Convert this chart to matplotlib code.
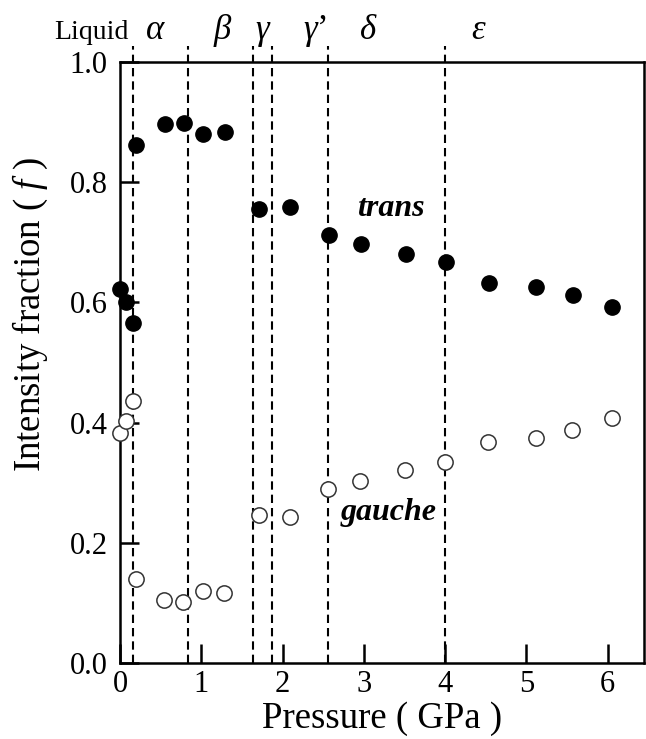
import matplotlib
matplotlib.use('Agg')
import matplotlib.pyplot as plt

plt.rcParams['font.family'] = ['Liberation Serif', 'DejaVu Serif']
plt.rcParams['mathtext.fontset'] = 'custom'
plt.rcParams['mathtext.rm'] = 'Liberation Serif'
plt.rcParams['mathtext.it'] = 'Liberation Serif:italic'

# trans (filled) and gauche (open) intensity fractions vs pressure
p_trans = [0.0, 0.07, 0.16, 0.2, 0.55, 0.79, 1.02, 1.29, 1.71, 2.085, 2.565, 2.96, 3.52, 4.01, 4.54, 5.12, 5.57, 6.05]
f_trans = [0.622, 0.600, 0.566, 0.862, 0.897, 0.899, 0.880, 0.884, 0.755, 0.758, 0.713, 0.698, 0.680, 0.667, 0.633, 0.626, 0.613, 0.593]
p_gauche = [0.0, 0.07, 0.16, 0.19, 0.54, 0.77, 1.02, 1.28, 1.71, 2.085, 2.56, 2.955, 3.51, 4.0, 4.53, 5.12, 5.56, 6.05]
f_gauche = [0.382, 0.402, 0.436, 0.139, 0.104, 0.101, 0.120, 0.117, 0.246, 0.243, 0.289, 0.303, 0.321, 0.335, 0.368, 0.374, 0.388, 0.408]

# phase boundaries and phase names
boundaries = [0.16, 0.83, 1.64, 1.875, 2.56, 4.0]
phase_names = ['Liquid', r'$\alpha$', r'$\beta$', r'$\gamma$', r'$\gamma$’', r'$\delta$', r'$\varepsilon$']
phase_x = [-0.35, 0.44, 1.27, 1.76, 2.4, 3.05, 4.42]

fig = plt.figure(figsize=(6.46, 7.39), dpi=100)
ax = fig.add_axes([0.186, 0.103, 0.811, 0.813])

# dashed phase boundaries, running a little above the frame
ax.vlines(boundaries, 0, 1.027, colors='black', linestyles=[(0, (4, 2.4))],
          linewidth=1.5, zorder=1, clip_on=False)

ax.plot(p_trans, f_trans, 'o', color='black', markersize=11, zorder=3, clip_on=False)
ax.plot(p_gauche, f_gauche, 'o', markerfacecolor='white', markeredgecolor='#333333',
        markeredgewidth=1.1, markersize=11, zorder=3, clip_on=False)

ax.text(3.33, 0.757, 'trans', fontsize=23, fontweight='bold', fontstyle='italic',
        ha='center', va='center')
ax.text(3.31, 0.25, 'gauche', fontsize=23, fontweight='bold', fontstyle='italic',
        ha='center', va='center')

for name, x in zip(phase_names, phase_x):
    size = 20 if name == 'Liquid' else 25
    ax.text(x, 1.038, name, fontsize=size, ha='center', va='baseline', clip_on=False)

ax.set_xlim(0, 6.45)
ax.set_ylim(0, 1.0)
ax.set_xticks([0, 1, 2, 3, 4, 5, 6])
ax.set_yticks([0, 0.2, 0.4, 0.6, 0.8, 1.0])
ax.set_yticklabels(['0.0', '0.2', '0.4', '0.6', '0.8', '1.0'])
ax.tick_params(direction='in', length=14, width=1.8, labelsize=22)
ax.tick_params(axis='x', pad=5)
ax.tick_params(axis='y', pad=9)

for s in ax.spines.values():
    s.set_linewidth(1.8)

ax.set_xlabel('Pressure ( GPa )', fontsize=26.5, labelpad=2)
ax.set_ylabel('Intensity fraction ( $f$ )', fontsize=26.5, va='center')
ax.yaxis.set_label_coords(-0.172, 0.58)

fig.savefig('out.png', dpi=100)
